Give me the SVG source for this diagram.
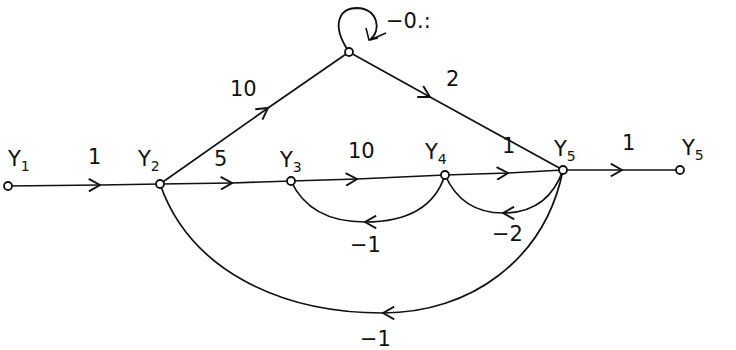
<svg xmlns="http://www.w3.org/2000/svg" width="736" height="350" viewBox="0 0 736 350">
<style>
.e{fill:none;stroke:#111;stroke-width:1.7;marker-mid:url(#chev)}
.n{fill:#fff;stroke:#111;stroke-width:1.8}
.t{font-family:"DejaVu Sans","Liberation Sans",sans-serif;font-size:21px;fill:#111}
.s{font-size:14px}
</style>
<defs>
<marker id="chev" viewBox="0 0 10 10" refX="9" refY="5" markerWidth="14" markerHeight="14" markerUnits="userSpaceOnUse" orient="auto">
<path d="M1,0.5 L9,5 L1,9.5" fill="none" stroke="#111" stroke-width="1.4"/>
</marker>
</defs>
<rect width="736" height="350" fill="#fff"/>
<g id="connectors">
<path class="e" d="M8,186 L100,185 L160,184"/>
<path class="e" d="M160,184 L232,183 L291,181"/>
<path class="e" d="M291,181 L357,179 L445,175"/>
<path class="e" d="M445,175 L508,173 L563,170"/>
<path class="e" d="M563,170 L622,170 L680,170"/>
<path class="e" d="M160,184 L268,108 L349,52" stroke="#333" stroke-width="1.2"/>
<path class="e" d="M349,52 L430,97 L563,170"/>
<path d="M349,52 C 330,24 340,8 357,8 C 378,9 382,30 370,40 M370,40 L386,33" fill="none" stroke="#111" stroke-width="1.8"/>
<path d="M366,28 L369,40 L378,38" fill="none" stroke="#111" stroke-width="1.6"/>
<path class="e" d="M445,175 Q 430,222 365,222 Q 310,222 291,181"/>
<path class="e" d="M563,170 Q 548,213 503,213 Q 462,213 445,175"/>
<path class="e" d="M563,170 C 545,260 470,313 383,313 C 280,313 190,270 160,184"/>
</g>
<g id="Y1"><circle class="n" cx="8" cy="186" r="4"/><text class="t" x="8" y="166">Y<tspan class="s" dy="5">1</tspan></text></g>
<g id="Y2"><circle class="n" cx="160" cy="184" r="4"/><text class="t" x="138" y="166">Y<tspan class="s" dy="5">2</tspan></text></g>
<g id="Y3"><circle class="n" cx="291" cy="181" r="4"/><text class="t" x="280" y="167">Y<tspan class="s" dy="5">3</tspan></text></g>
<g id="Y4"><circle class="n" cx="445" cy="175" r="4"/><text class="t" x="425" y="159">Y<tspan class="s" dy="5">4</tspan></text></g>
<g id="Y5"><circle class="n" cx="563" cy="170" r="4"/><text class="t" x="554" y="156">Y<tspan class="s" dy="5">5</tspan></text></g>
<g id="Y6"><circle class="n" cx="680" cy="170" r="4"/><text class="t" x="682" y="155">Y<tspan class="s" dy="5">5</tspan></text></g>
<g id="N7"><circle class="n" cx="349" cy="52" r="4"/></g>
<g id="labels">
<text class="t" x="88" y="164">1</text>
<text class="t" x="214" y="166">5</text>
<text class="t" x="230" y="96">10</text>
<text class="t" x="348" y="158">10</text>
<text class="t" x="502" y="153">1</text>
<text class="t" x="622" y="150">1</text>
<text class="t" x="446" y="86">2</text>
<text class="t" x="386" y="28">−0.:</text>
<text class="t" x="350" y="252">−1</text>
<text class="t" x="492" y="241">−2</text>
<text class="t" x="360" y="346">−1</text>
</g>
</svg>
